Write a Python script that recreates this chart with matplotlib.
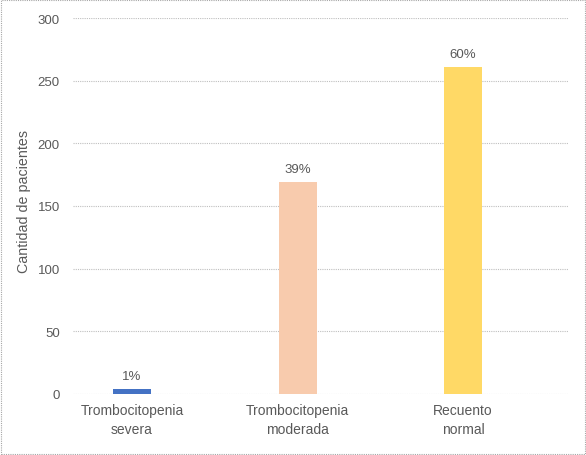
import matplotlib
matplotlib.use("Agg")
import matplotlib.pyplot as plt
from matplotlib.patches import Rectangle

categories = ["Trombocitopenia\nsevera", "Trombocitopenia\nmoderada", "Recuento\nnormal"]
values = [4, 169, 261]
pct_labels = ["1%", "39%", "60%"]
colors = ["#4472C4", "#F8CBAD", "#FFD966"]
yticks = [0, 50, 100, 150, 200, 250, 300]

plt.rcParams['font.family'] = ['Liberation Sans', 'DejaVu Sans']
txt = "#595959"

fig = plt.figure(figsize=(5.86, 4.56), dpi=100)
ax = fig.add_axes([73/586, 1-395/456, (569-73)/586, (395-19)/456])

x = list(range(len(categories)))
bars = ax.bar(x, values, width=0.23, color=colors, zorder=3)
for xi, v, lab in zip(x, values, pct_labels):
    ax.annotate(lab, (xi, v), xytext=(0, 5), textcoords="offset points",
                ha="center", va="bottom", fontsize=9.5, color=txt)

ax.set_xlim(-0.357, 2.64)
ax.set_ylim(0, 300)
ax.set_yticks(yticks)
ax.set_xticks(x)
ax.set_xticklabels(categories, fontsize=10, color=txt, linespacing=1.45)
ax.tick_params(axis='y', labelsize=9.5, colors=txt, length=0, pad=9.5)
ax.tick_params(axis='x', length=0, pad=6.5)
ax.grid(axis='y', color="#bfbfbf", linewidth=0.8, linestyle=(0, (1, 1)), zorder=0)
for s in ax.spines.values():
    s.set_visible(False)
ax.set_ylabel("Cantidad de pacientes", fontsize=10.3, color=txt)
ax.yaxis.set_label_coords(-0.085, 0.515)

fig.patches.append(Rectangle((0.002, 0.002), 0.996, 0.996, transform=fig.transFigure,
                             fill=False, edgecolor="#a6a6a6", linewidth=0.8,
                             linestyle=(0, (1, 1))))

fig.savefig("out.png", dpi=100)
